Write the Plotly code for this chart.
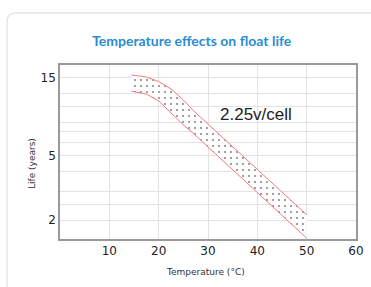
import math
import plotly.graph_objects as go

# ---- data ----
temps = [14.5, 17.5, 20, 22.5, 25, 27, 50]
life_upper = [15.6, 15.17, 14.23, 12.81, 10.96, 9.45, 2.16]
life_lower = [12.40, 11.93, 10.81, 9.12, 7.70, 6.85, 1.55]

x_ticks = [10, 20, 30, 40, 50, 60]
y_grid = [2, 2.5, 3, 4, 5, 6, 7, 8, 10, 12, 15]
y_labels = {2: "2", 5: "5", 15: "15"}

label_text = "2.25v/cell"
label_pos = (39.8, 8.87)

W, H = 371, 287
L, R, T, B = 60, 15, 65, 48
pw, ph = W - L - R, H - T - B

def px(xp):
    return (xp - L) / pw

def py(yp):
    return (H - B - yp) / ph

fig = go.Figure()
fig.add_trace(go.Scatter(
    x=temps, y=life_lower, mode="lines",
    line=dict(color="#f07a7a", width=1), hoverinfo="skip", showlegend=False))
fig.add_trace(go.Scatter(
    x=temps, y=life_upper, mode="lines", fill="tonexty",
    line=dict(color="#f07a7a", width=1),
    fillcolor="white",
    fillpattern=dict(shape=".", fgcolor="#111111", bgcolor="white",
                     size=6, solidity=0.1),
    hoverinfo="skip", showlegend=False))

# card outline
rx, ry = 9 / pw, 9 / ph
x0, y0 = px(7), py(13)
x1, y1 = px(400), py(320)
path = (f"M {x0},{y1} L {x0},{y0 - ry} Q {x0},{y0} {x0 + rx},{y0} "
        f"L {x1},{y0}")

fig.update_layout(
    width=W, height=H,
    margin=dict(l=L, r=R, t=T, b=B),
    paper_bgcolor="white", plot_bgcolor="white",
    showlegend=False,
    title=dict(text="Temperature effects on float life",
               x=191.7 / W, xref="container", xanchor="center",
               y=1 - 40.7 / H, yref="container", yanchor="middle",
               font=dict(family="Lato", size=14, color="#2b8cd2", weight="bold")),
    shapes=[dict(type="path", path=path, xref="paper", yref="paper",
                 line=dict(color="#e6e6e6", width=1.5), layer="below")],
    annotations=[
        dict(text=label_text, x=label_pos[0], y=math.log10(label_pos[1]),
             xref="x", yref="y", showarrow=False,
             xanchor="center", yanchor="middle",
             font=dict(family="Liberation Sans", size=17, color="#222222")),
        dict(text="Temperature (°C)", x=px(205), y=py(272), xref="paper", yref="paper",
             xanchor="center", yanchor="middle", showarrow=False,
             font=dict(family="DejaVu Sans", size=9, color="#333333")),
        dict(text="Life (years)", x=px(32), y=py(164), xref="paper", yref="paper",
             xanchor="center", yanchor="middle",
             textangle=-90, showarrow=False,
             font=dict(family="DejaVu Sans", size=9, color="#333333")),
    ],
)

fig.update_xaxes(
    range=[0, 60], tickvals=x_ticks, ticktext=[str(v) for v in x_ticks],
    showgrid=True, gridcolor="#e2e2e2", gridwidth=1,
    showline=True, linecolor="#9a9a9a", linewidth=1.5, mirror=True,
    ticks="", zeroline=False, automargin=False,
    tickfont=dict(family="DejaVu Sans", size=12, color="#222222"),
)
fig.update_yaxes(
    type="log",
    range=[(269.5 - 239.3) / 163, (269.5 - 65) / 163],
    tickvals=y_grid, ticktext=[y_labels.get(v, "") for v in y_grid],
    showgrid=True, gridcolor="#e2e2e2", gridwidth=1,
    showline=True, linecolor="#9a9a9a", linewidth=1.5, mirror=True,
    ticks="", zeroline=False, automargin=False,
    tickfont=dict(family="DejaVu Sans", size=12, color="#222222"),
)

fig.write_html("out.html", config={"displayModeBar": False},
               post_script="document.body.style.margin='0';document.body.style.overflow='hidden';")
